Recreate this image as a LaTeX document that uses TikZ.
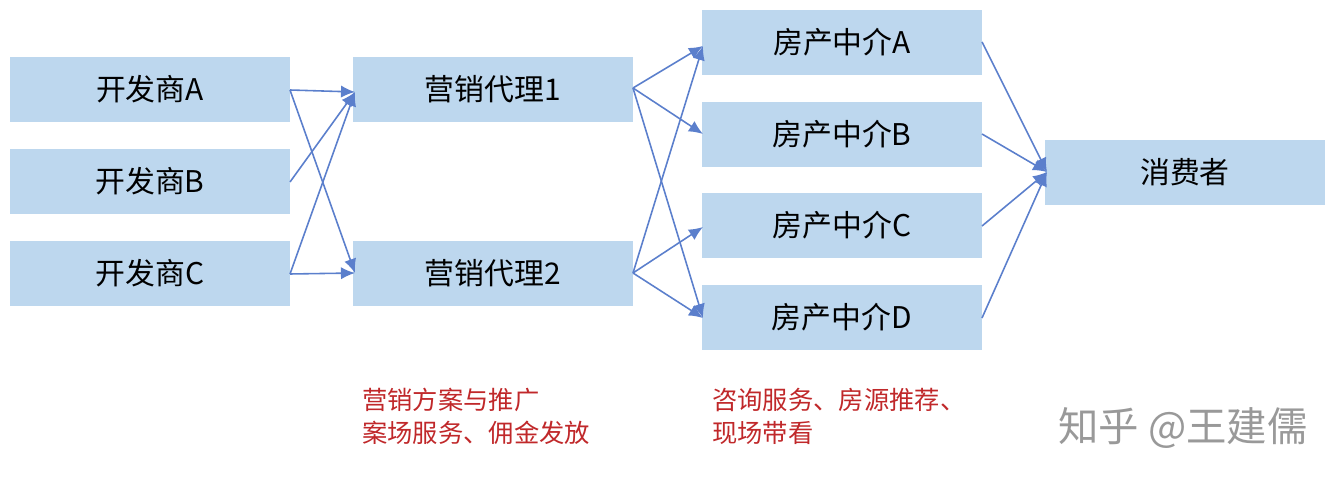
\documentclass[tikz,border=0pt]{standalone}
\usepackage{fontspec}
\setmainfont{Noto Sans CJK SC}
\usetikzlibrary{arrows.meta}
\definecolor{boxc}{HTML}{BDD7EE}
\definecolor{arr}{HTML}{5B7FCC}
\definecolor{redt}{HTML}{C0282A}
\begin{document}
\begin{tikzpicture}[x=0.02cm,y=-0.02cm,
  box/.style={fill=boxc,minimum width=5.6cm,minimum height=1.3cm,inner sep=0pt,font=\fontsize{17}{20}\selectfont},
  conn/.style={draw=arr,line width=0.9pt,-{Latex[length=8pt,width=7pt]}},
  note/.style={text=redt,font=\fontsize{14.4}{18.5}\selectfont,align=left,anchor=north west,inner sep=0pt}]
\useasboundingbox (0,0) rectangle (1343,479);
\node[box] (d1) at (150,89.5) {开发商A};
\node[box] (d2) at (150,181.5) {开发商B};
\node[box] (d3) at (150,273.5) {开发商C};
\node[box] (m1) at (493,89.5) {营销代理1};
\node[box] (m2) at (493,273.5) {营销代理2};
\node[box] (a1) at (842,42.5) {房产中介A};
\node[box] (a2) at (842,134.5) {房产中介B};
\node[box] (a3) at (842,225.5) {房产中介C};
\node[box] (a4) at (842,317.5) {房产中介D};
\node[box] (c) at (1185,172.5) {消费者};
\coordinate (d1o) at (290,90);
\coordinate (d2o) at (290,182);
\coordinate (d3o) at (290,274);
\coordinate (m1i) at (355,92);
\coordinate (m2i) at (355,273);
\coordinate (m1o) at (633,88);
\coordinate (m2o) at (633,273);
\coordinate (a1i) at (703,46);
\coordinate (a2i) at (703,134);
\coordinate (a3i) at (703,227);
\coordinate (a4i) at (703,318);
\coordinate (a1o) at (982,42);
\coordinate (a2o) at (982,134);
\coordinate (a3o) at (982,226);
\coordinate (a4o) at (982,318);
\coordinate (ci) at (1047,172);
\draw[conn] (d1o) -- (m1i);
\draw[conn] (d1o) -- (m2i);
\draw[conn] (d2o) -- (m1i);
\draw[conn] (d3o) -- (m1i);
\draw[conn] (d3o) -- (m2i);
\draw[conn] (m1o) -- (a1i);
\draw[conn] (m1o) -- (a2i);
\draw[conn] (m1o) -- (a4i);
\draw[conn] (m2o) -- (a1i);
\draw[conn] (m2o) -- (a3i);
\draw[conn] (m2o) -- (a4i);
\draw[conn] (a1o) -- (ci);
\draw[conn] (a2o) -- (ci);
\draw[conn] (a3o) -- (ci);
\draw[conn] (a4o) -- (ci);
\node[note] (n1) at (362,388) {营销方案与推广\\案场服务、佣金发放};
\node[note] (n2) at (712,388) {咨询服务、房源推荐、\\现场带看};
\node[text=black!40,font=\fontsize{23}{26}\selectfont,anchor=west,inner sep=0pt] (w) at (1058,428) {知乎 @王建儒};
\end{tikzpicture}
\end{document}
